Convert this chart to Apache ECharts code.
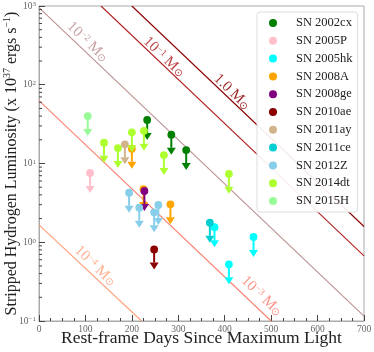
<!doctype html>
<html>
<head>
<meta charset="utf-8">
<title></title>
<script src="https://cdn.jsdelivr.net/npm/echarts@6/dist/echarts.min.js"></script>
<style>
html, body { margin: 0; padding: 0; background: #fff; }
#container { width: 374px; height: 352px; }
</style>
</head>
<body>
<div id="container"></div>
<script type="text/javascript">
var names = ['SN 2002cx', 'SN 2005P', 'SN 2005hk', 'SN 2008A', 'SN 2008ge', 'SN 2010ae',
             'SN 2011ay', 'SN 2011ce', 'SN 2012Z', 'SN 2014dt', 'SN 2015H'];
var colors = ['#008000', '#ffc0cb', '#00ffff', '#ffa500', '#800080', '#8b0000',
              '#d2b48c', '#00ced1', '#87ceeb', '#adff2f', '#98fb98'];

// [rest-frame days, upper limit on L (x 1e37 erg/s)]
var sn2002cx = [[233, 35.7], [285, 23.2], [317, 14.8]];
var sn2005P = [[110, 7.6]];
var sn2005hk = [[378, 1.55], [409, 0.525], [462, 1.17]];
var sn2008A = [[200, 15.4], [225, 4.74], [283, 3.03]];
var sn2008ge = [[227, 4.48]];
var sn2010ae = [[248, 0.81]];
var sn2011ay = [[185, 17.5]];
var sn2011ce = [[368, 1.77]];
var sn2012Z = [[194, 4.26], [216, 2.75], [248, 2.4], [257, 2.97]];
var sn2014dt = [[140, 18.4], [170, 15.7], [200, 24.9], [226, 26], [269, 12.8], [409, 7.4]];
var sn2015H = [[105, 40]];
var limits = [sn2002cx, sn2005P, sn2005hk, sn2008A, sn2008ge, sn2010ae,
              sn2011ay, sn2011ce, sn2012Z, sn2014dt, sn2015H];

// stripped mass model lines: start / end points
var massText = ['1.0 M{sub|⊙}', '10{sup|−1} M{sub|⊙}', '10{sup|−2} M{sub|⊙}', '10{sup|−3} M{sub|⊙}', '10{sup|−4} M{sub|⊙}'];
var massColors = ['#8b0000', '#b22222', '#bc8f8f', '#fa8072', '#ffa07a'];
var massStart = [[200, 1000], [133.5, 1000], [0, 955], [0, 63], [0, 1.66]];
var massEnd = [[700, 1.585], [700, 0.673], [700, 0.115], [500, 0.1], [221, 0.1]];
var massLabelAt = [[416, 81], [269, 225], [105, 349], [480, 0.207], [121, 0.5]];

var yTicks = [0.1, 1, 10, 100, 1000];
var yMinor = [];
for (var k = 0; k < 4; k++) {
    for (var m = 2; m < 10; m++) yMinor.push([0, m * yTicks[k]]);
}

var serif = 'Liberation Serif';
var dom = document.getElementById('container');
var myChart = echarts.init(dom);

function limitItem(color) {
    return function (params, api) {
        var p = api.coord([api.value(0), api.value(1)]);
        var len = 20, hw = 4.5, hh = 7;
        return {
            type: 'group',
            children: [
                { type: 'line', shape: { x1: p[0], y1: p[1], x2: p[0], y2: p[1] + len - hh },
                  style: { stroke: color, lineWidth: 2 } },
                { type: 'polygon', shape: { points: [[p[0] - hw, p[1] + len - hh], [p[0] + hw, p[1] + len - hh], [p[0], p[1] + len]] },
                  style: { fill: color } },
                { type: 'circle', shape: { cx: p[0], cy: p[1], r: 3.9 }, style: { fill: color } }
            ]
        };
    };
}

var series = [];
for (var i = 0; i < massText.length; i++) {
    series.push({
        name: 'mass' + i,
        type: 'line',
        silent: true,
        symbol: 'none',
        z: 1,
        lineStyle: { color: massColors[i], width: 1.1 },
        data: [massStart[i], massEnd[i]],
        markPoint: {
            symbolSize: 0,
            silent: true,
            data: [{ coord: massLabelAt[i] }],
            label: {
                show: true,
                position: 'inside',
                rotate: -44,
                formatter: massText[i],
                color: massColors[i],
                opacity: 0.85,
                fontFamily: serif,
                fontSize: 15,
                rich: {
                    sup: { fontSize: 9.5, verticalAlign: 'top', color: massColors[i], fontFamily: serif },
                    sub: { fontSize: 10.5, verticalAlign: 'bottom', color: massColors[i] }
                }
            }
        }
    });
}
for (var j = 0; j < names.length; j++) {
    series.push({
        name: names[j],
        type: 'custom',
        z: 5,
        itemStyle: { color: colors[j] },
        renderItem: limitItem(colors[j]),
        data: limits[j]
    });
}
series.push({
    name: 'yminor',
    type: 'custom',
    silent: true,
    z: 6,
    renderItem: function (params, api) {
        var p = api.coord([api.value(0), api.value(1)]);
        return { type: 'line', shape: { x1: p[0], y1: p[1], x2: p[0] + 3, y2: p[1] },
                 style: { stroke: '#444', lineWidth: 1 } };
    },
    data: yMinor
});

var option = {
    animation: false,
    grid: {
        left: 39, right: 10, top: 6, bottom: 31,
        outerBoundsMode: 'none',
        containLabel: false,
        show: true, borderColor: '#aaa', borderWidth: 1
    },
    legend: {
        orient: 'vertical',
        left: 257, top: 12,
        padding: [4, 5, 4, 12],
        itemWidth: 10, itemHeight: 8, itemGap: 3.8,
        icon: 'circle',
        borderColor: '#ddd', borderWidth: 1, borderRadius: 3,
        backgroundColor: 'rgba(255,255,255,0.92)',
        textStyle: { fontFamily: serif, fontSize: 12.5, color: '#222', lineHeight: 14, padding: [0, 0, 0, 13] },
        data: names
    },
    xAxis: {
        type: 'value',
        min: 0, max: 700, interval: 100,
        name: 'Rest-frame Days Since Maximum Light',
        nameLocation: 'middle', nameGap: 8,
        nameMoveOverlap: false,
        nameTextStyle: { fontFamily: serif, fontSize: 17.5, color: '#222' },
        axisLine: { lineStyle: { color: '#aaa' } },
        axisTick: { inside: true, length: 6, lineStyle: { color: '#444' } },
        minorTick: { show: true, splitNumber: 4, length: 3, lineStyle: { color: '#444' } },
        axisLabel: { fontFamily: serif, fontSize: 9.5, color: '#666', margin: 3 },
        splitLine: { show: false }
    },
    yAxis: {
        type: 'log', logBase: 10,
        min: 0.1, max: 1000,
        name: 'Stripped Hydrogen Luminosity (x 10{sup|37} ergs s{sup|−1})',
        nameLocation: 'middle', nameGap: 17, nameRotate: 90,
        nameMoveOverlap: false,
        nameTextStyle: {
            fontFamily: serif, fontSize: 16, color: '#222', lineHeight: 20,
            rich: { sup: { fontFamily: serif, fontSize: 10, color: '#222', verticalAlign: 'top' } }
        },
        axisLine: { show: true, lineStyle: { color: '#aaa' } },
        axisTick: { inside: true, length: 6, lineStyle: { color: '#444' } },
        axisLabel: {
            margin: 3,
            fontFamily: serif, fontSize: 9.5, color: '#666',
            formatter: function (v) {
                return '10{s|' + Math.round(Math.log10(v)).toString().replace('-', '−') + '}';
            },
            rich: { s: { fontFamily: serif, fontSize: 7, color: '#666', verticalAlign: 'top' } }
        },
        splitLine: { show: false }
    },
    series: series
};

myChart.setOption(option, true);
</script>
</body>
</html>
